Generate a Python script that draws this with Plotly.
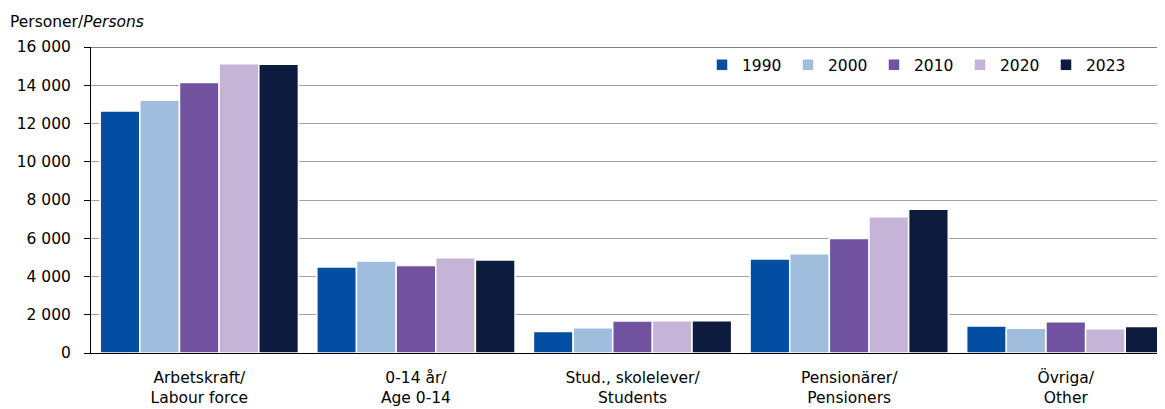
import plotly.graph_objects as go

categorias = ['Arbetskraft/<br>Labour force', '0-14 år/<br>Age 0-14',
              'Stud., skolelever/<br>Students', 'Pensionärer/<br>Pensioners',
              'Övriga/<br>Other']
anos = ['1990', '2000', '2010', '2020', '2023']
v1990 = [12650, 4500, 1130, 4910, 1410]
v2000 = [13220, 4810, 1320, 5190, 1290]
v2010 = [14150, 4570, 1670, 5990, 1640]
v2020 = [15120, 4980, 1690, 7120, 1270]
v2023 = [15100, 4860, 1690, 7510, 1390]
valores = [v1990, v2000, v2010, v2020, v2023]
cores = ['#034ea2', '#a0bddd', '#7052a0', '#c5b4d7', '#0d1b3f']
yticks = [0, 2000, 4000, 6000, 8000, 10000, 12000, 14000, 16000]

fonte = dict(size=15.5, family='DejaVu Sans', color='#000000')

fig = go.Figure()
for ano, vals, cor in zip(anos, valores, cores):
    fig.add_trace(go.Bar(
        x=categorias,
        y=vals,
        name=ano,
        marker=dict(color=cor, line=dict(color='white', width=1.5))
    ))

# a pagina tem margem de 8px no body
fig.update_layout(
    width=1157, height=401,
    margin=dict(l=83, r=0, t=39, b=56),
    barmode='group',
    bargap=0.085,
    bargroupgap=0,
    plot_bgcolor='white',
    paper_bgcolor='white',
    font=fonte,
    separators=', ',
    showlegend=True,
    legend=dict(
        orientation='h',
        x=(702 - 91) / 1074, xanchor='left',
        y=0.941, yanchor='middle',
        bgcolor='white',
        font=fonte,
        itemwidth=30,
        entrywidth=41,
        traceorder='normal'
    ),
    xaxis=dict(
        range=[-0.5, 4.458],
        automargin=False,
        showline=True, linecolor='#000000', linewidth=1,
        ticks='', showgrid=False,
        ticklabelstandoff=10,
        tickfont=fonte
    ),
    yaxis=dict(
        range=[0, 16000],
        automargin=False,
        tickvals=yticks,
        tickformat=',',
        showgrid=True, gridcolor='#a3a3a3', gridwidth=1,
        showline=True, linecolor='#000000', linewidth=1,
        ticks='outside', ticklen=6, tickcolor='#000000',
        ticklabelstandoff=10,
        tickfont=fonte,
        zeroline=False
    ),
    shapes=[dict(type='line', xref='paper', yref='y', x0=0, x1=1,
                 y0=16000, y1=16000, line=dict(color='#000000', width=1))],
    annotations=[dict(text='Personer/<i>Persons</i>', xref='paper', yref='paper',
                      x=(8 - 91) / 1074, y=1.0 + 25 / 306, xanchor='left',
                      yanchor='middle', showarrow=False, font=fonte)]
)

fig.write_html("out.html")
